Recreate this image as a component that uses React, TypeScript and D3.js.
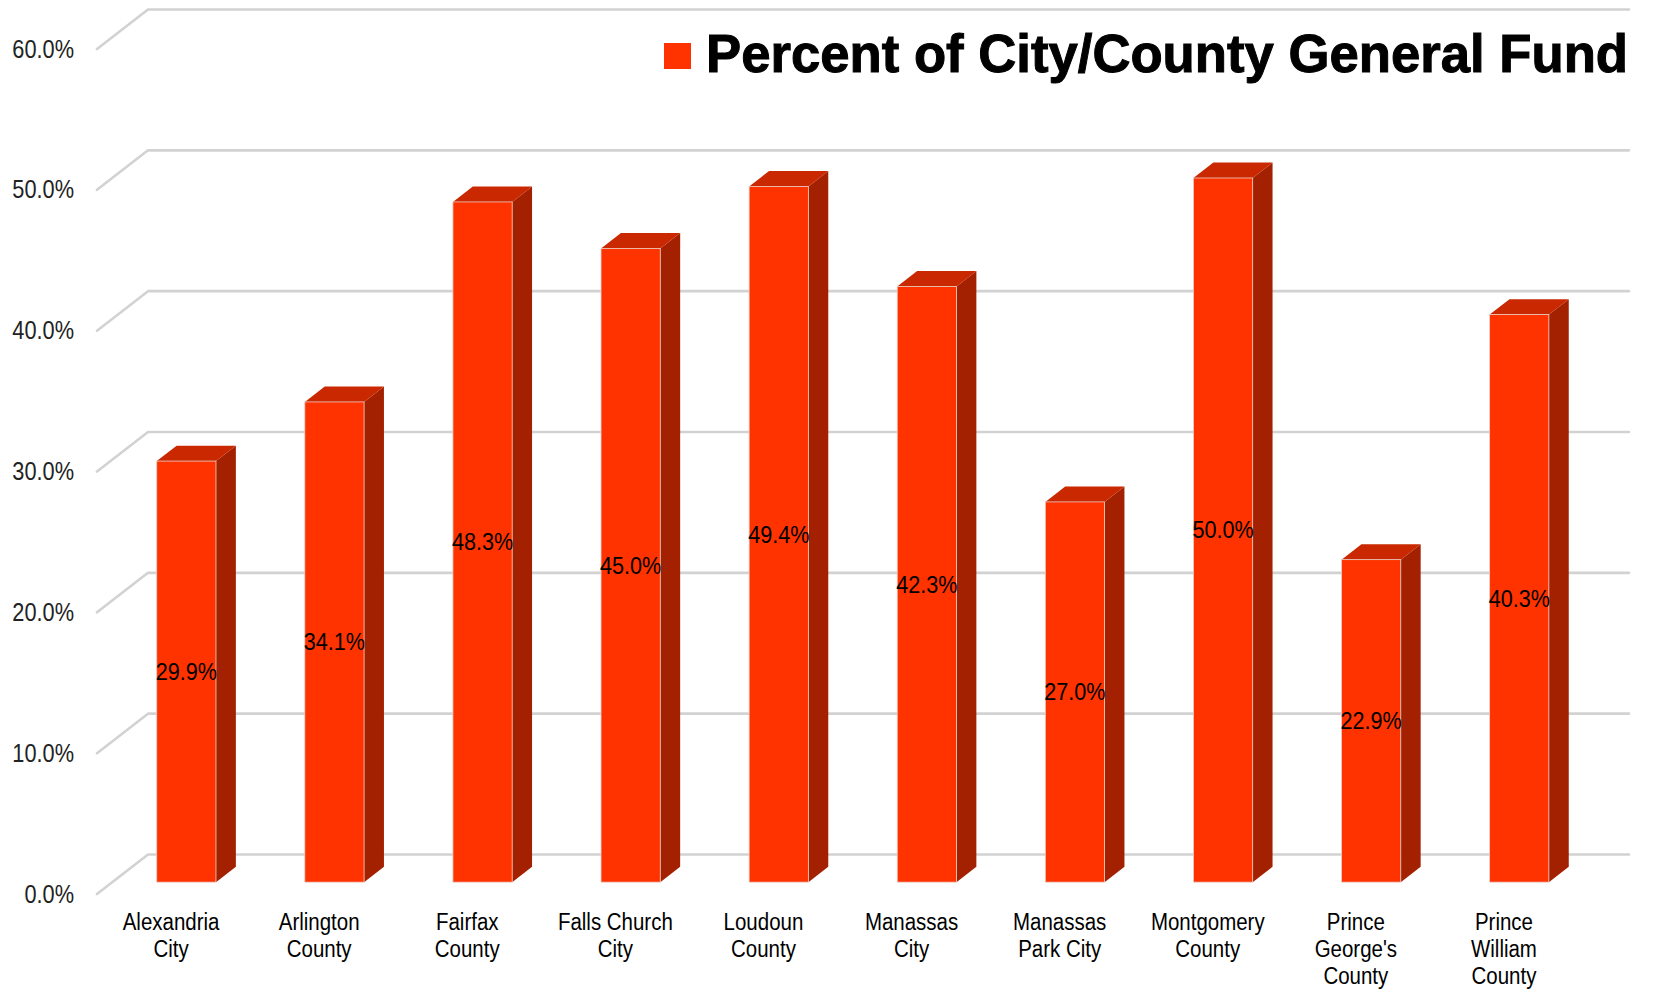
import React from "react";
import * as d3 from "d3";

const categories: string[][] = [
  ["Alexandria", "City"],
  ["Arlington", "County"],
  ["Fairfax", "County"],
  ["Falls Church", "City"],
  ["Loudoun", "County"],
  ["Manassas", "City"],
  ["Manassas", "Park City"],
  ["Montgomery", "County"],
  ["Prince", "George's", "County"],
  ["Prince", "William", "County"],
];
const values: number[] = [29.9, 34.1, 48.3, 45.0, 49.4, 42.3, 27.0, 50.0, 22.9, 40.3];
const ticks: number[] = [0, 10, 20, 30, 40, 50, 60];
const seriesName = "Percent of City/County General Fund";

const W = 1653;
const H = 992;
const FONT = '"Liberation Sans", Arial, sans-serif';

export default function App() {
  const frontLeft = 97;
  const plotW = 1481;
  const dx = 51;
  const dy = -39.5;
  const f0 = 0.3;
  const f1 = 0.69;

  const y = d3.scaleLinear().domain([0, 60]).range([894, 49]);
  const keys = categories.map((c) => c.join(" "));
  const x = d3.scaleBand<string>().domain(keys).range([frontLeft, frontLeft + plotW]).padding(0);
  const barW = x.bandwidth() * 0.4;

  const front = "#FF3300";
  const top = "#C92800";
  const side = "#A32100";

  return (
    <svg width={W} height={H} style={{ position: "absolute", left: 0, top: 0 }}>
      <rect width={W} height={H} fill="#fff" />
      {/* gridlines */}
      {ticks.map((t) => {
        const yf = y(t);
        return (
          <g key={t}>
            <polyline
              points={`${frontLeft},${yf} ${frontLeft + dx},${yf + dy} ${frontLeft + plotW + dx},${yf + dy}`}
              fill="none"
              stroke="#d2d2d2"
              strokeWidth={2.6}
              strokeLinejoin="round"
              strokeLinecap="round"
            />
            <text
              transform={`translate(74,${yf}) scale(0.87,1)`}
              textAnchor="end"
              dominantBaseline="central"
              fontFamily={FONT}
              fontSize={25}
              fill="#222"
            >
              {t.toFixed(1) + "%"}
            </text>
          </g>
        );
      })}
      {/* bars */}
      {values.map((v, i) => {
        const k = keys[i];
        const cx = (x(k) as number) + x.bandwidth() / 2 + f0 * dx;
        const x0 = cx - barW / 2;
        const x1 = cx + barW / 2;
        const yb = y(0) + f0 * dy;
        const yt = y(v) + f0 * dy;
        const ddx = (f1 - f0) * dx;
        const ddy = (f1 - f0) * dy;
        return (
          <g key={k}>
            <polygon
              points={`${x1},${yt} ${x1 + ddx},${yt + ddy} ${x1 + ddx},${yb + ddy} ${x1},${yb}`}
              fill={side}
            />
            <polygon
              points={`${x0},${yt} ${x0 + ddx},${yt + ddy} ${x1 + ddx},${yt + ddy} ${x1},${yt}`}
              fill={top}
            />
            <rect x={x0} y={yt} width={barW} height={yb - yt} fill={front} stroke="#e8d0c8" strokeWidth={0.8} />
            <text
              transform={`translate(${cx},${(yt + yb) / 2}) scale(0.9,1)`}
              textAnchor="middle"
              dominantBaseline="central"
              fontFamily={FONT}
              fontSize={24}
              fill="#000"
            >
              {v.toFixed(1) + "%"}
            </text>
          </g>
        );
      })}
      {/* category labels */}
      {categories.map((lines, i) => {
        const cx = (x(keys[i]) as number) + x.bandwidth() / 2;
        return (
          <g key={keys[i]} transform={`translate(${cx},0) scale(0.89,1)`}>
            <text textAnchor="middle" fontFamily={FONT} fontSize={23} fill="#000">
              {lines.map((l, j) => (
                <tspan key={j} x={0} y={930 + j * 26.8}>
                  {l}
                </tspan>
              ))}
            </text>
          </g>
        );
      })}
      {/* legend */}
      <rect x={664} y={43} width={27} height={26} fill={front} />
      <text
        x={706}
        y={72}
        fontFamily={FONT}
        fontWeight="bold"
        fontSize={53}
        fill="#000"
        stroke="#000"
        strokeWidth={1}
        textLength={922}
        lengthAdjust="spacingAndGlyphs"
      >
        {seriesName}
      </text>
    </svg>
  );
}
